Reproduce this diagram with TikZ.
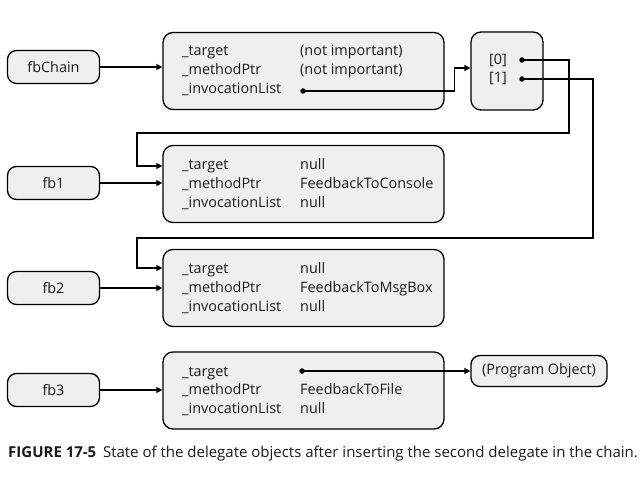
\documentclass[tikz,border=0pt]{standalone}
\usepackage{fontspec}
\setmainfont{Open Sans}
\usetikzlibrary{arrows.meta}
\definecolor{boxfill}{HTML}{EFEFEF}
\definecolor{txt}{HTML}{1A1A1A}
\begin{document}
\begin{tikzpicture}[x=1pt,y=-1pt,
  font=\fontsize{14.4}{16}\selectfont, text=txt,
  ref/.style={draw, line width=1.3pt, rounded corners=9pt, fill=boxfill, minimum width=92pt, minimum height=33pt, inner sep=0pt},
  obj/.style={draw, line width=1.3pt, rounded corners=10pt, fill=boxfill, minimum width=281pt, minimum height=77pt, inner sep=0pt},
  arrbox/.style={draw, line width=1.3pt, rounded corners=10pt, fill=boxfill, minimum width=72pt, minimum height=78pt, inner sep=0pt},
  lbl/.style={anchor=mid west, inner sep=0pt, yshift=-1.5pt},
  conn/.style={line width=1.6pt, -{Triangle[length=6pt,width=6pt]}},
  dotn/.style={circle, fill=black, inner sep=0pt, minimum size=5.5pt},
]
\useasboundingbox[fill=white] (0,0) rectangle (644,478);

% reference boxes
\node[ref] (fbChain) at (53.5,67) {fbChain};
\node[ref] (fb1) at (53.5,183) {fb1};
\node[ref] (fb2) at (53.5,288) {fb2};
\node[ref] (fb3) at (53.5,390) {fb3};

% delegate objects
\node[obj] (d0) at (303.5,71) {};
\node[obj] (d1) at (303.5,184) {};
\node[obj] (d2) at (303.5,288) {};
\node[obj] (d3) at (303.5,390.5) {};

% d0 rows
\node[lbl] (d0a) at (182,51) {\_target};
\node[lbl] (d0b) at (182,70) {\_methodPtr};
\node[lbl] (d0c) at (182,89) {\_invocationList};
\node[lbl] (d0av) at (300,51) {(not important)};
\node[lbl] (d0bv) at (300,70) {(not important)};
\node[dotn] (d0inv) at (303,91) {};

% d1 rows
\node[lbl] (d1a) at (182,165) {\_target};
\node[lbl] (d1b) at (182,184) {\_methodPtr};
\node[lbl] (d1c) at (182,203) {\_invocationList};
\node[lbl] (d1av) at (300,165) {null};
\node[lbl] (d1bv) at (300,184) {FeedbackToConsole};
\node[lbl] (d1cv) at (300,203) {null};

% d2 rows
\node[lbl] (d2a) at (182,269) {\_target};
\node[lbl] (d2b) at (182,288) {\_methodPtr};
\node[lbl] (d2c) at (182,307) {\_invocationList};
\node[lbl] (d2av) at (300,269) {null};
\node[lbl] (d2bv) at (300,288) {FeedbackToMsgBox};
\node[lbl] (d2cv) at (300,307) {null};

% d3 rows
\node[lbl] (d3a) at (182,372) {\_target};
\node[lbl] (d3b) at (182,390) {\_methodPtr};
\node[lbl] (d3c) at (182,409) {\_invocationList};
\node[dotn] (d3tgt) at (302,371) {};
\node[lbl] (d3bv) at (300,390) {FeedbackToFile};
\node[lbl] (d3cv) at (300,409) {null};

% array
\node[arrbox] (arr) at (507,71) {};
\node[lbl] (a0l) at (489,60) {[0]};
\node[lbl] (a1l) at (489,78) {[1]};
\node[dotn] (a0) at (522,60) {};
\node[dotn] (a1) at (522,79) {};

% program object
\node[ref, minimum width=136pt, minimum height=31pt] (prog) at (539,371) {(Program Object)};

% connectors
\draw[conn] (fbChain.east) -- (fbChain.east -| d0.west);
\draw[conn] (fb1.east) -- (fb1.east -| d1.west);
\draw[conn] (fb2.east) -- (fb2.east -| d2.west);
\draw[conn] (fb3.east) -- (fb3.east -| d3.west);

\draw[conn] (d0inv.center) -| ([xshift=-16pt,yshift=3pt]arr.west) -- ([yshift=3pt]arr.west);

\coordinate (r0) at (569,133);
\coordinate (l0) at (137,133);
\draw[conn] (a0.center) -| (r0) -- (l0) |- ([yshift=18pt]d1.west);

\coordinate (r1) at (593,238);
\coordinate (l1) at (137,238);
\draw[conn] (a1.center) -| (r1) -- (l1) |- ([yshift=20pt]d2.west);

\draw[conn] (d3tgt.center) -- (prog.west);

% caption
\node[anchor=mid west, inner sep=0pt, font=\fontsize{15}{16}\selectfont] (cap) at (8,455)
  {\textbf{FIGURE 17-5}\hspace{0.45em}State of the delegate objects after inserting the second delegate in the chain.};
\end{tikzpicture}
\end{document}
